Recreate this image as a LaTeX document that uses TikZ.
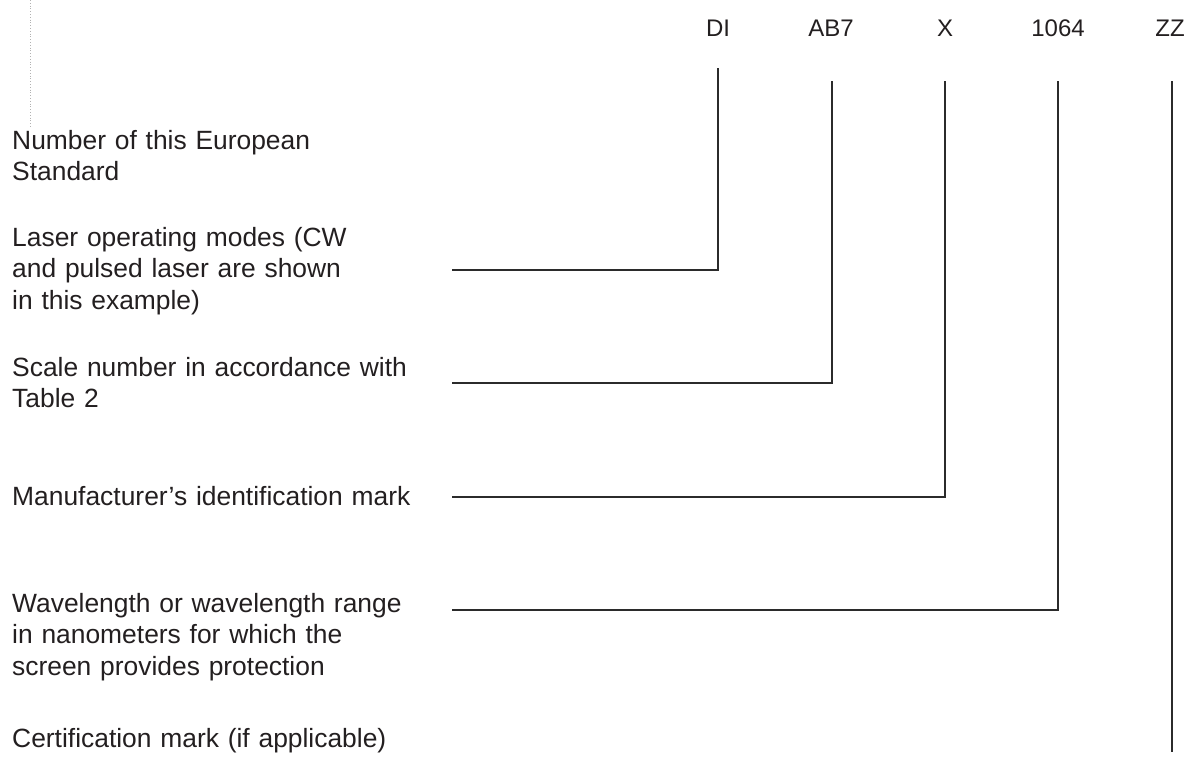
\documentclass[tikz,border=0pt]{standalone}
\usepackage{fontspec}
\setmainfont{Liberation Sans}
\definecolor{txtc}{HTML}{231F20}
\definecolor{linec}{HTML}{2B2B2B}
\begin{document}
\begin{tikzpicture}[x=1pt,y=-1pt,
  lbl/.style={font=\fontsize{24}{29}\selectfont, text=txtc, inner sep=0pt, anchor=base},
  desc/.style={font=\fontsize{26.4}{31.6}\selectfont, text=txtc, inner sep=0pt, anchor=base west, align=left, text width=440pt},
  lead/.style={draw=linec, line width=2pt}]
\useasboundingbox (0,0) rectangle (1190,758);
% faint dotted artefact
\draw[gray!60, dotted, line width=0.8pt] (30,0) -- (30,127);
% top labels
\node[lbl] (lDI) at (718,36) {DI};
\node[lbl] (lAB) at (831,36) {AB7};
\node[lbl] (lX) at (945,36) {X};
\node[lbl] (lNM) at (1058,36) {1064};
\node[lbl] (lZZ) at (1170,36) {ZZ};
% descriptions
\node[desc] (dNum) at (12,149) {Number of this European\\Standard};
\node[desc] (dLas) at (12,246) {Laser operating modes (CW\\and pulsed laser are shown\\in this example)};
\node[desc] (dSca) at (12,376) {Scale number in accordance with\\Table 2};
\node[desc] (dMan) at (12,505) {Manufacturer’s identification mark};
\node[desc] (dWav) at (12,612) {Wavelength or wavelength range\\in nanometers for which the\\screen provides protection};
\node[desc] (dCer) at (12,747) {Certification mark (if applicable)};
% leader coordinates
\coordinate (tDI) at (718,68);
\coordinate (tAB) at (832,81);
\coordinate (tX) at (945,81);
\coordinate (tNM) at (1058,81);
\coordinate (tZZ) at (1172,81);
\coordinate (eDI) at (452,270);
\coordinate (eAB) at (452,383);
\coordinate (eX) at (452,497);
\coordinate (eNM) at (452,610);
\coordinate (eZZ) at (1172,752);
\draw[lead] (tDI) |- (eDI);
\draw[lead] (tAB) |- (eAB);
\draw[lead] (tX) |- (eX);
\draw[lead] (tNM) |- (eNM);
\draw[lead] (tZZ) -- (eZZ);
\end{tikzpicture}
\end{document}
